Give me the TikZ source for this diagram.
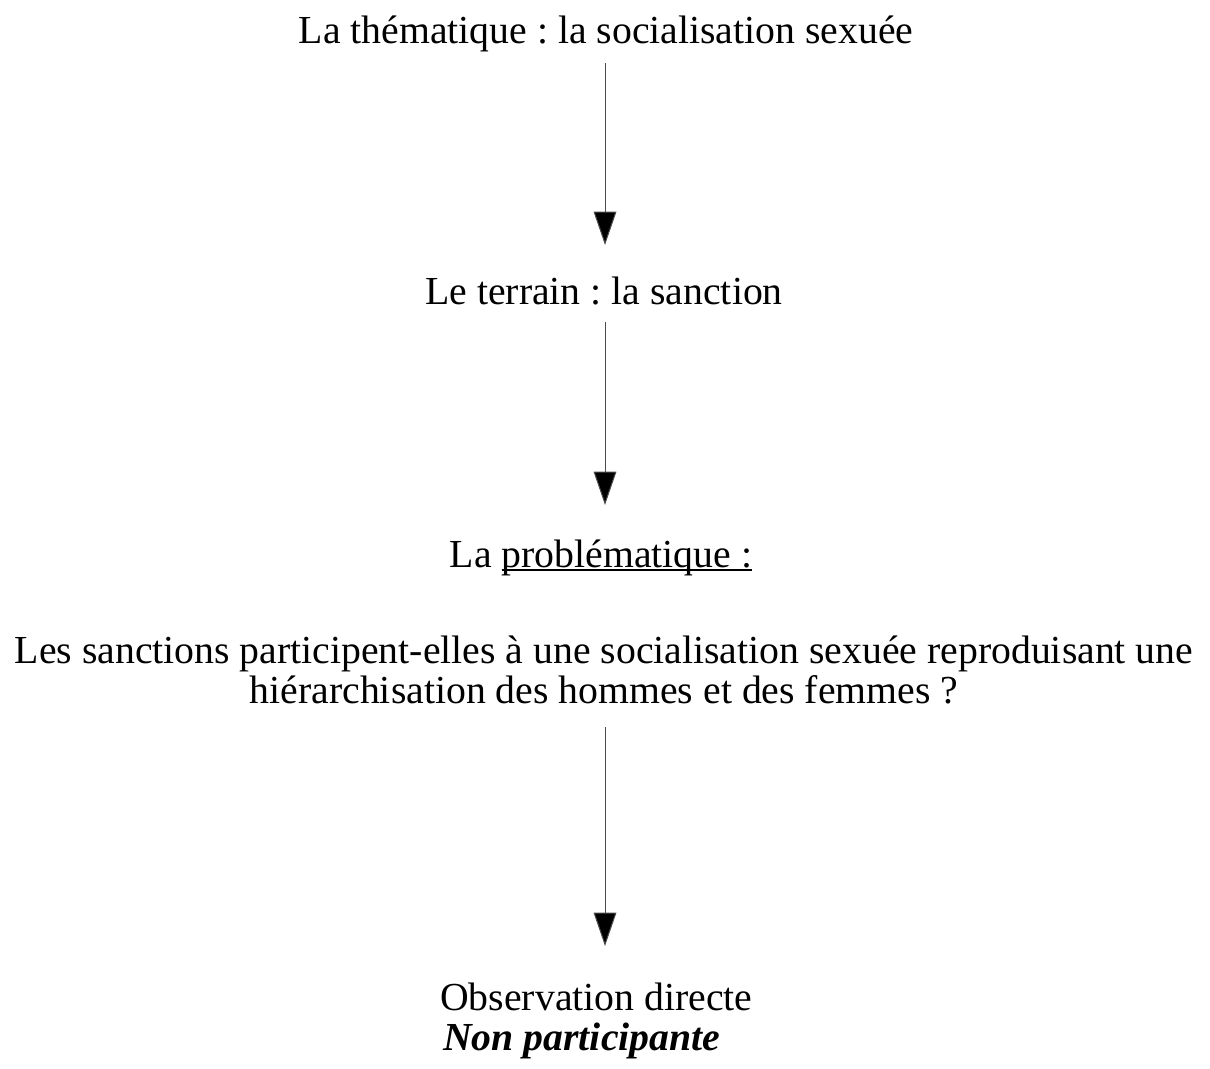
\documentclass[tikz,border=0pt]{standalone}
\usepackage{fontspec}
\setmainfont{Liberation Serif}
\usetikzlibrary{arrows.meta}
\frenchspacing
\newcommand\ulmine[1]{\setbox0\hbox{#1}\rlap{\rule[-2.4pt]{\wd0}{1.4pt}}\box0}
\begin{document}
\begin{tikzpicture}[x=0.75pt,y=-0.75pt,
  lbl/.style={inner sep=0pt,font=\fontsize{29.8}{30.5}\selectfont},
  conn/.style={draw=black!70,line width=0.75pt,-{Triangle[length=25pt,width=17pt,fill=black]}}]
\useasboundingbox (0,0) rectangle (1210,1068);
\node[lbl] (a) at (606,34) {La thématique : la socialisation sexuée};
\node[lbl] (b) at (604,291) {Le terrain : la sanction};
\node[lbl] (c) at (601,558) {La \ulmine{problématique :}};
\node[lbl,align=center] (d) at (604,670) {Les sanctions participent-elles à une socialisation sexuée reproduisant une\\hiérarchisation des hommes et des femmes ?};
\node[lbl,align=left,anchor=west] (e) at (440,1021) {Observation directe\\ \hspace*{2.2pt}\textbf{\textit{Non participante}}};
\coordinate (a1) at (605,63);
\coordinate (a2) at (605,245);
\coordinate (b1) at (605,322);
\coordinate (b2) at (605,505);
\coordinate (d1) at (605,727);
\coordinate (d2) at (605,946);
\draw[conn] (a1) -- (a2);
\draw[conn] (b1) -- (b2);
\draw[conn] (d1) -- (d2);
\end{tikzpicture}
\end{document}
